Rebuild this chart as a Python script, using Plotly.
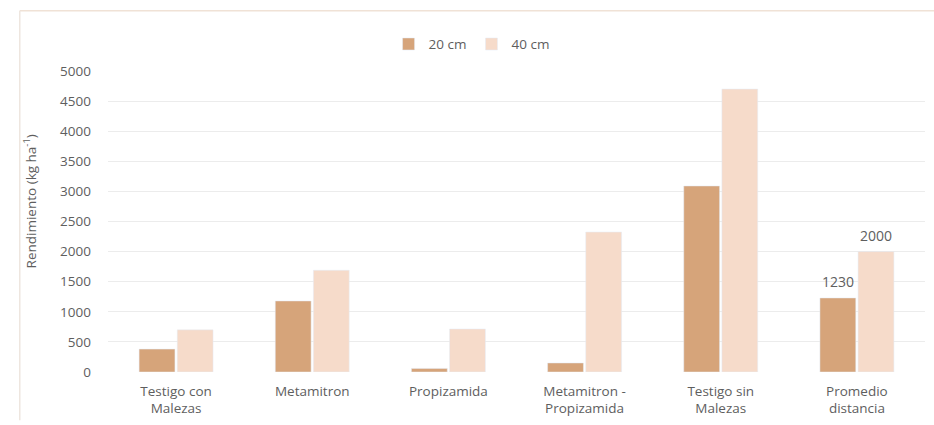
import plotly.graph_objects as go

# Rendimiento por tratamiento y distancia entre hileras
categorias = [
    "Testigo con<br>Malezas",
    "Metamitron",
    "Propizamida",
    "Metamitron -<br>Propizamida",
    "Testigo sin<br>Malezas",
    "Promedio<br>distancia",
]
rend_20cm = [380, 1180, 60, 150, 3090, 1230]
rend_40cm = [700, 1690, 715, 2325, 4700, 2000]
y_ticks = [0, 500, 1000, 1500, 2000, 2500, 3000, 3500, 4000, 4500, 5000]

color_20 = "#D6A47A"
color_40 = "#F6DBCA"
texto = "#5e5e5e"
fuente = "'Open Sans', Lato, sans-serif"

fig = go.Figure()
fig.add_trace(go.Bar(name="20 cm", x=categorias, y=rend_20cm, marker_color=color_20))
fig.add_trace(go.Bar(name="40 cm", x=categorias, y=rend_40cm, marker_color=color_40))

BARGAP = 0.44
fig.update_layout(
    width=934, height=425,
    margin=dict(l=108, r=9, t=71, b=53, autoexpand=False),
    paper_bgcolor="white", plot_bgcolor="white",
    barmode="group", bargap=BARGAP, bargroupgap=0.06,
    font=dict(family=fuente, color=texto, size=13),
    legend=dict(
        orientation="h", x=0.445, xanchor="center",
        y=0.896, yref="container", yanchor="middle",
        font=dict(size=13.5, color=texto),
        itemwidth=30, traceorder="normal",
    ),
    showlegend=True,
)

fig.update_xaxes(
    showgrid=False, showline=False, zeroline=False, ticks="",
    ticklabelstandoff=9,
    tickfont=dict(size=13.5, color=texto),
)
fig.update_yaxes(
    range=[0, 5000], tickvals=y_ticks, showline=False, zeroline=False,
    gridcolor="#ececec", gridwidth=1, ticks="", ticklabelstandoff=16,
    tickfont=dict(size=13.5, color=texto),
)

# Título del eje Y
fig.add_annotation(
    xref="paper", yref="paper", x=-0.095, y=0.568,
    text="Rendimiento (kg ha<sup>-1</sup>)", textangle=-90,
    showarrow=False, xanchor="center", yanchor="middle",
    font=dict(size=13.5, color=texto, family=fuente),
)

# Valores del promedio sobre cada barra
ancho_cat = (934 - 108 - 9) / len(categorias)
desfase = ancho_cat * (1 - BARGAP) / 4
for serie, signo in ((rend_20cm, -1), (rend_40cm, 1)):
    fig.add_annotation(
        x=categorias[-1], y=serie[-1], text=f"{serie[-1]}",
        showarrow=False, yanchor="bottom", yshift=5, xshift=signo * desfase,
        font=dict(size=14, color=texto, family=fuente),
    )

# Marco exterior del gráfico
fig.add_shape(type="line", xref="paper", yref="paper",
              x0=-0.108, x1=1.02, y0=1.2, y1=1.2,
              line=dict(color="#f0e2d6", width=1.5))
fig.add_shape(type="line", xref="paper", yref="paper",
              x0=-0.108, x1=-0.108, y0=1.2, y1=-0.16,
              line=dict(color="#eee6df", width=1.5))

fig.write_html("out.html")
